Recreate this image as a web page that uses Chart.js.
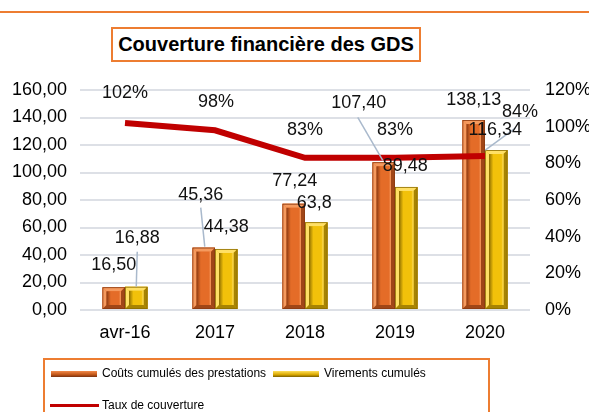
<!DOCTYPE html>
<html>
<head>
<meta charset="utf-8">
<script src="https://cdn.jsdelivr.net/npm/chart.js@4/dist/chart.umd.min.js"></script>
<style>
    body { margin: 0; background: #fff; font-family: "Liberation Sans", Arial, sans-serif; }
    #wrap { position: relative; width: 589px; height: 412px; overflow: hidden; }
    #topline { position: absolute; left: 0; top: 11px; width: 589px; height: 2px; background: #ed7d31; }
    #title { position: absolute; left: 111px; top: 27px; width: 306px; height: 31px; border: 2px solid #ed7d31;
        font-weight: bold; font-size: 20px; line-height: 31px; text-align: center; color: #000; background: #fff; }
    #legend { position: absolute; left: 43px; top: 358px; width: 443px; height: 70px; border: 2px solid #ed7d31;
        font-size: 12px; color: #000; }
    .item { position: absolute; white-space: nowrap; }
    .sw { position: absolute; }
</style>
</head>
<body>
<div id="wrap">
    <canvas id="chart" width="589" height="412"></canvas>
    <div id="topline"></div>
    <div id="title">Couverture financière des GDS</div>
    <div id="legend">
        <div class="sw" style="left:6px;top:11px;width:46px;height:6px;background:linear-gradient(#f28a4a,#c25618 60%,#7a3210);"></div>
        <div class="item" style="left:57px;top:6px;">Coûts cumulés des prestations</div>
        <div class="sw" style="left:228px;top:11px;width:46px;height:6px;background:linear-gradient(#ffdf5a,#d9a800 60%,#7d6000);"></div>
        <div class="item" style="left:279px;top:6px;">Virements cumulés</div>
        <div class="sw" style="left:5px;top:44px;width:49px;height:3px;background:#c00000;"></div>
        <div class="item" style="left:57px;top:38px;">Taux de couverture</div>
    </div>
</div>
<script>
// Données
const categories = ['avr-16', '2017', '2018', '2019', '2020'];
const coutsCumules = [16.50, 45.36, 77.24, 107.40, 138.13];
const virementsCumules = [16.88, 44.38, 63.8, 89.48, 116.34];
const virementsDecimales = [2, 2, 1, 2, 2];
const tauxCouverture = [102, 98, 83, 83, 84];

function fr(v, d) {
    return v.toFixed(d).replace('.', ',');
}

// label placement (offset from bar top / line point), leader lines where Excel had them
const labelPlacement = [
    [{ dx: 0, dy: -22 }, { dx: -3, dy: -53, lead: [-3, -40, 1, -1] }, { dx: 1, dy: -23 },
     { dx: -25, dy: -59, lead: [-26, -45, -1, -2] }, { dx: 0, dy: -20 }],
    [{ dx: 1, dy: -49, lead: [1, -35, 0, 0] }, { dx: 0, dy: -22 }, { dx: -2, dy: -19 },
     { dx: -1, dy: -21 }, { dx: -1, dy: -20, lead: [19, -22, -11, 0] }],
    [{ dx: 0, dy: -30 }, { dx: 1, dy: -28 }, { dx: 0, dy: -28 }, { dx: 0, dy: -28 }, { dx: 35, dy: -44 }]
];

const palettes = [
    { light: '#f59a5e', mid: '#e46c28', dark: '#8a3a12' },
    { light: '#ffe066', mid: '#f2c10a', dark: '#8d6d00' }
];

// 3D bevel look on bars
const bevelBars = {
    id: 'bevelBars',
    afterDatasetDraw(chart, args) {
        const pal = palettes[args.index];
        if (!pal) return;
        const ctx = chart.ctx;
        const b = 4;
        args.meta.data.forEach(el => {
            const { x, y, base, width } = el.getProps(['x', 'y', 'base', 'width'], true);
            const x0 = x - width / 2, x1 = x + width / 2;
            ctx.save();
            ctx.fillStyle = pal.mid;
            ctx.fillRect(x0, y, width, base - y);
            // top
            ctx.fillStyle = pal.light;
            ctx.beginPath();
            ctx.moveTo(x0, y); ctx.lineTo(x1, y); ctx.lineTo(x1 - b, y + b); ctx.lineTo(x0 + b, y + b);
            ctx.fill();
            // left
            ctx.beginPath();
            ctx.moveTo(x0, y); ctx.lineTo(x0 + b, y + b); ctx.lineTo(x0 + b, base - b); ctx.lineTo(x0, base);
            ctx.fill();
            // right
            ctx.fillStyle = pal.dark;
            ctx.globalAlpha = 0.75;
            ctx.beginPath();
            ctx.moveTo(x1, y); ctx.lineTo(x1 - b, y + b); ctx.lineTo(x1 - b, base - b); ctx.lineTo(x1, base);
            ctx.fill();
            // bottom
            ctx.beginPath();
            ctx.moveTo(x0, base); ctx.lineTo(x0 + b, base - b); ctx.lineTo(x1 - b, base - b); ctx.lineTo(x1, base);
            ctx.fill();
            ctx.globalAlpha = 1;
            // inner face
            if (base - y > 2 * b) {
                const g = ctx.createLinearGradient(x0 + b, 0, x1 - b, 0);
                g.addColorStop(0, pal.dark);
                g.addColorStop(0.3, pal.mid);
                g.addColorStop(0.85, pal.mid);
                g.addColorStop(1, pal.light);
                ctx.fillStyle = g;
                ctx.fillRect(x0 + b, y + b, width - 2 * b, base - y - 2 * b);
            }
            ctx.strokeStyle = pal.dark;
            ctx.lineWidth = 0.8;
            ctx.strokeRect(x0 + 0.4, y + 0.4, width - 0.8, base - y - 0.8);
            ctx.restore();
        });
    }
};

const valueLabels = {
    id: 'valueLabels',
    afterDatasetsDraw(chart) {
        const ctx = chart.ctx;
        ctx.save();
        ctx.font = '18px "Liberation Sans", Arial, sans-serif';
        ctx.textAlign = 'center';
        ctx.textBaseline = 'middle';
        chart.data.datasets.forEach((ds, i) => {
            const meta = chart.getDatasetMeta(i);
            meta.data.forEach((el, j) => {
                const p = labelPlacement[i][j];
                const v = ds.data[j];
                let txt;
                if (i === 0) txt = fr(v, 2);
                else if (i === 1) txt = fr(v, virementsDecimales[j]);
                else txt = v + '%';
                if (p.lead) {
                    ctx.strokeStyle = '#a9b9cc';
                    ctx.lineWidth = 1.5;
                    ctx.beginPath();
                    ctx.moveTo(el.x + p.lead[0], el.y + p.lead[1]);
                    ctx.lineTo(el.x + p.lead[2], el.y + p.lead[3]);
                    ctx.stroke();
                }
                ctx.fillStyle = '#111';
                ctx.fillText(txt, el.x + p.dx, el.y + p.dy);
            });
        });
        ctx.restore();
    }
};

new Chart(document.getElementById('chart'), {
    data: {
        labels: categories,
        datasets: [
            {
                type: 'bar',
                label: 'Coûts cumulés des prestations',
                data: coutsCumules,
                backgroundColor: '#e46c28',
                yAxisID: 'y',
                order: 1
            },
            {
                type: 'bar',
                label: 'Virements cumulés',
                data: virementsCumules,
                backgroundColor: '#f2c10a',
                yAxisID: 'y',
                order: 1
            },
            {
                type: 'line',
                label: 'Taux de couverture',
                data: tauxCouverture,
                borderColor: '#c00000',
                borderWidth: 6,
                pointRadius: 0,
                tension: 0,
                yAxisID: 'y1',
                order: 0
            }
        ]
    },
    options: {
        responsive: false,
        animation: false,
        devicePixelRatio: 1,
        layout: { padding: { top: 90, left: 0, right: 0, bottom: 0 } },
        datasets: { bar: { categoryPercentage: 0.5, barPercentage: 1.0, borderWidth: 0 } },
        plugins: { legend: { display: false }, tooltip: { enabled: false } },
        scales: {
            x: {
                grid: { display: false, drawTicks: false },
                border: { display: false },
                ticks: { color: '#000', font: { size: 18, family: '"Liberation Sans", Arial' }, padding: 12 },
                afterFit: s => { s.height = 102; }
            },
            y: {
                position: 'left',
                min: 0, max: 160,
                grid: { color: '#dde0e6', lineWidth: 2, drawTicks: false },
                border: { display: false },
                ticks: {
                    stepSize: 20, padding: 13, color: '#000',
                    font: { size: 18, family: '"Liberation Sans", Arial' },
                    callback: v => fr(v, 2)
                },
                afterFit: s => { s.width = 80; }
            },
            y1: {
                position: 'right',
                min: 0, max: 120,
                grid: { drawOnChartArea: false, drawTicks: false },
                border: { display: false },
                ticks: {
                    stepSize: 20, padding: 15, color: '#000',
                    font: { size: 18, family: '"Liberation Sans", Arial' },
                    callback: v => v + '%'
                },
                afterFit: s => { s.width = 59; }
            }
        }
    },
    plugins: [bevelBars, valueLabels]
});
</script>
</body>
</html>
